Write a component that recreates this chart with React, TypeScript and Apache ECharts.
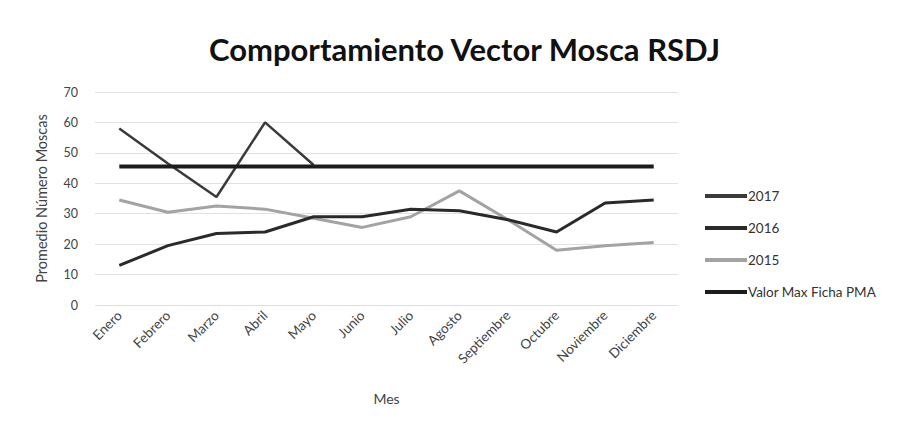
import React, { useEffect, useRef } from "react";
import * as echarts from "echarts";

const months = ["Enero", "Febrero", "Marzo", "Abril", "Mayo", "Junio", "Julio", "Agosto", "Septiembre", "Octubre", "Noviembre", "Diciembre"];
const s2017: (number | null)[] = [58, 46.5, 35.5, 60, 46, null, null, null, null, null, null, null];
const s2016 = [13, 19.5, 23.5, 24, 29, 29, 31.5, 31, 28, 24, 33.5, 34.5];
const s2015 = [34.5, 30.5, 32.5, 31.5, 28.5, 25.5, 29, 37.5, 28, 18, 19.5, 20.5];
const valorMax = [45.5, 45.5, 45.5, 45.5, 45.5, 45.5, 45.5, 45.5, 45.5, 45.5, 45.5, 45.5];
const yTicks = [0, 10, 20, 30, 40, 50, 60, 70];

export default function App() {
  const ref = useRef<HTMLDivElement>(null);
  useEffect(() => {
    if (!ref.current) return;
    const chart = echarts.init(ref.current, null, { renderer: "svg" });
    const font = "Lato, 'Open Sans', sans-serif";
    chart.setOption({
      animation: false,
      backgroundColor: "#ffffff",
      title: {
        text: "Comportamiento Vector Mosca RSDJ",
        left: 204,
        top: 28,
        textStyle: { fontFamily: font, fontWeight: "bold", fontSize: 31, color: "#111" },
      },
      grid: { left: 95, right: 220, top: 92, bottom: 126 },
      legend: {
        orient: "vertical",
        left: 700,
        top: 184,
        itemGap: 18,
        itemWidth: 42,
        itemHeight: 4,
        icon: "rect",
        textStyle: { fontFamily: font, fontSize: 13.5, color: "#333", padding: [0, 0, 0, -4] },
        data: ["2017", "2016", "2015", "Valor Max Ficha PMA"],
      },
      xAxis: {
        type: "category",
        data: months,
        boundaryGap: true,
        name: "Mes",
        nameLocation: "middle",
        nameGap: 86,
        nameTextStyle: { fontFamily: font, fontSize: 14, color: "#444" },
        axisLine: { show: false },
        axisTick: { show: false },
        axisLabel: { rotate: 45, fontFamily: font, fontSize: 13.5, color: "#444", margin: 8 },
      },
      yAxis: {
        type: "value",
        min: yTicks[0],
        max: yTicks[yTicks.length - 1],
        interval: 10,
        name: "Promedio Número Moscas",
        nameLocation: "middle",
        nameGap: 46,
        nameTextStyle: { fontFamily: font, fontSize: 14.5, color: "#444" },
        axisLine: { show: false },
        axisTick: { show: false },
        axisLabel: { fontFamily: font, fontSize: 12.5, color: "#444", margin: 17 },
        splitLine: { lineStyle: { color: "#e2e2e2", width: 1 } },
      },
      series: [
        { name: "2017", type: "line", data: s2017, showSymbol: false, symbol: "none", lineStyle: { color: "#3a3a3a", width: 2.5 }, itemStyle: { color: "#3a3a3a" }, z: 3 },
        { name: "2016", type: "line", data: s2016, showSymbol: false, symbol: "none", lineStyle: { color: "#2a2a2a", width: 3 }, itemStyle: { color: "#2a2a2a" }, z: 3 },
        { name: "2015", type: "line", data: s2015, showSymbol: false, symbol: "none", lineStyle: { color: "#a3a3a3", width: 3 }, itemStyle: { color: "#a3a3a3" }, z: 2 },
        { name: "Valor Max Ficha PMA", type: "line", data: valorMax, showSymbol: false, symbol: "none", lineStyle: { color: "#1c1c1c", width: 4 }, itemStyle: { color: "#1c1c1c" }, z: 4 },
      ],
    });
    return () => chart.dispose();
  }, []);
  return <div ref={ref} style={{ position: "fixed", left: 0, top: 0, width: 898, height: 431 }} />;
}
